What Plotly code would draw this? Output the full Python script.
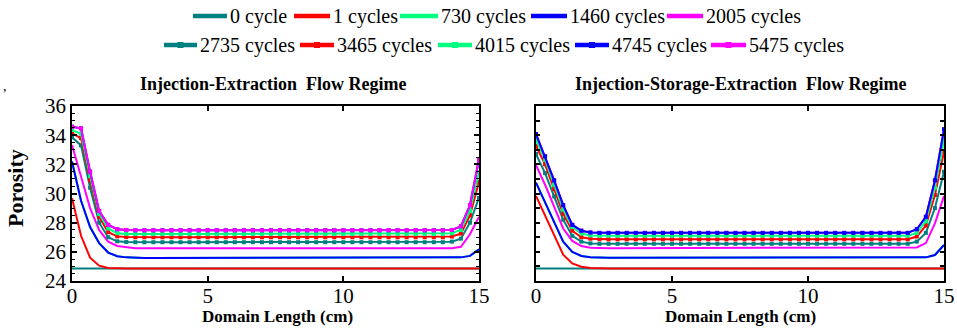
import numpy as np
import plotly.graph_objects as go

# ---------------- data ----------------
x_cm = np.linspace(0, 15, 46)          # domain grid, dx = 1/3 cm
labels = ["0 cycle", "1 cycles", "730 cycles", "1460 cycles", "2005 cycles",
          "2735 cycles", "3465 cycles", "4015 cycles", "4745 cycles", "5475 cycles"]
colors = ["#008080", "#FF0000", "#00FF7F", "#0000FF", "#FF00FF",
          "#008080", "#FF0000", "#00FF7F", "#0000FF", "#FF00FF"]
has_marker = [False] * 5 + [True] * 5

# Injection-Extraction: (left edge values, plateau value, right edge values)
ie_left = {
    "0 cycle":     [24.85],
    "1 cycles":    [29.67, 27.10, 25.60, 25.05, 24.90, 24.86],
    "730 cycles":  [32.20, 29.50, 27.70, 26.60, 25.95, 25.70, 25.62],
    "1460 cycles": [32.20, 29.50, 27.70, 26.60, 25.95, 25.70, 25.62],
    "2005 cycles": [33.33, 31.20, 29.00, 27.50, 26.70, 26.40, 26.30],
    "2735 cycles": [33.85, 33.30, 30.40, 28.00, 27.00, 26.72, 26.67],
    "3465 cycles": [34.13, 33.80, 30.90, 28.40, 27.35, 27.06, 27.01],
    "4015 cycles": [34.35, 34.10, 31.20, 28.60, 27.60, 27.28, 27.23],
    "4745 cycles": [34.58, 34.47, 31.50, 28.80, 27.85, 27.55, 27.50],
    "5475 cycles": [34.58, 34.47, 31.50, 28.80, 27.85, 27.55, 27.50],
}
ie_plateau = {
    "0 cycle": 24.85, "1 cycles": 24.85, "730 cycles": 25.58, "1460 cycles": 25.58,
    "2005 cycles": 26.25, "2735 cycles": 26.66, "3465 cycles": 27.00,
    "4015 cycles": 27.22, "4745 cycles": 27.48, "5475 cycles": 27.48,
}
ie_right = {
    "0 cycle":     [24.85],
    "1 cycles":    [24.85],
    "730 cycles":  [25.58, 25.62, 25.72, 26.17],
    "1460 cycles": [25.58, 25.62, 25.72, 26.17],
    "2005 cycles": [26.25, 26.35, 27.20, 28.40],
    "2735 cycles": [26.70, 26.90, 28.00, 29.70],
    "3465 cycles": [27.05, 27.25, 28.50, 30.80],
    "4015 cycles": [27.27, 27.50, 28.80, 31.50],
    "4745 cycles": [27.50, 27.75, 29.20, 32.35],
    "5475 cycles": [27.50, 27.75, 29.20, 32.35],
}

# Injection-Storage-Extraction
ise_left = {
    "0 cycle":     [24.85],
    "1 cycles":    [29.83, 28.50, 27.10, 25.80, 25.20, 24.98, 24.90, 24.86],
    "730 cycles":  [30.74, 29.40, 28.00, 26.70, 26.00, 25.72, 25.63],
    "1460 cycles": [30.74, 29.40, 28.00, 26.70, 26.00, 25.72, 25.63],
    "2005 cycles": [31.95, 30.60, 29.10, 27.60, 26.75, 26.40, 26.28],
    "2735 cycles": [32.70, 31.40, 29.80, 28.20, 27.10, 26.70, 26.58],
    "3465 cycles": [33.26, 32.00, 30.30, 28.60, 27.45, 27.00, 26.90],
    "4015 cycles": [33.67, 32.30, 30.60, 28.90, 27.70, 27.25, 27.12],
    "4745 cycles": [34.08, 32.55, 30.90, 29.20, 27.85, 27.45, 27.33],
    "5475 cycles": [34.08, 32.55, 30.90, 29.20, 27.85, 27.45, 27.33],
}
ise_plateau = {
    "0 cycle": 24.85, "1 cycles": 24.85, "730 cycles": 25.60, "1460 cycles": 25.60,
    "2005 cycles": 26.25, "2735 cycles": 26.55, "3465 cycles": 26.86,
    "4015 cycles": 27.10, "4745 cycles": 27.30, "5475 cycles": 27.30,
}
ise_right = {
    "0 cycle":     [24.85],
    "1 cycles":    [24.85],
    "730 cycles":  [25.60, 25.62, 25.78, 26.47],
    "1460 cycles": [25.60, 25.62, 25.78, 26.47],
    "2005 cycles": [26.30, 26.60, 27.95, 29.83],
    "2735 cycles": [26.70, 27.30, 29.00, 31.50],
    "3465 cycles": [27.05, 27.80, 29.90, 32.87],
    "4015 cycles": [27.30, 28.10, 30.40, 33.67],
    "4745 cycles": [27.55, 28.40, 30.90, 34.40],
    "5475 cycles": [27.55, 28.40, 30.90, 34.40],
}


def profile(left, plateau, right):
    n_mid = len(x_cm) - len(left) - len(right)
    return list(left) + [plateau] * n_mid + list(right)


FONT = "Liberation Serif"

fig = go.Figure()

order_ie = list(range(10))
order_ise = [0, 1, 2, 3, 4, 5, 6, 7, 9, 8]   # blue 4745 drawn on top in the right panel

for (lft, plat, rgt, order, xa, ya) in [
        (ie_left, ie_plateau, ie_right, order_ie, "x", "y"),
        (ise_left, ise_plateau, ise_right, order_ise, "x2", "y2")]:
    for i in order:
        name = labels[i]
        y = profile(lft[name], plat[name], rgt[name])
        fig.add_trace(go.Scatter(
            x=x_cm, y=y, xaxis=xa, yaxis=ya, name=name, showlegend=False,
            mode="lines+markers" if has_marker[i] else "lines",
            line=dict(color=colors[i], width=2),
            marker=dict(symbol="square", size=4, color=colors[i]),
        ))

W, H = 957, 328
def px(v):
    return v / W
def py(v):
    return 1 - v / H

axis_common = dict(
    range=[0, 15], showline=True, linecolor="black", linewidth=1.5,
    mirror="allticks", ticks="inside", ticklen=5, tickwidth=1.5, tickcolor="black",
    showgrid=False, zeroline=False, tickvals=[0, 5, 10, 15], automargin=False,
    ticklabelstandoff=-5,
    tickfont=dict(family=FONT, size=21, color="black"),
)
yaxis_common = dict(
    range=[24, 36], showline=True, linecolor="black", linewidth=1.5,
    mirror="allticks", ticks="inside", tickwidth=1.5, tickcolor="black",
    showgrid=False, zeroline=False, automargin=False,
    tickfont=dict(family=FONT, size=21, color="black"),
)

ydom = [py(281), py(106)]
fig.update_layout(
    width=W, height=H, margin=dict(l=0, r=0, t=0, b=0),
    paper_bgcolor="white", plot_bgcolor="white", showlegend=False,
    font=dict(family=FONT, color="black"),
    xaxis=dict(domain=[px(72), px(479)], anchor="y", **axis_common),
    xaxis2=dict(domain=[px(536), px(944)], anchor="y2", **axis_common),
    yaxis=dict(domain=ydom, anchor="x", tickvals=[24, 26, 28, 30, 32, 34, 36],
               ticklen=5, minor=dict(dtick=0.5, ticks="inside", ticklen=3,
                                     tickwidth=1.2, tickcolor="black"),
               **yaxis_common),
    yaxis2=dict(domain=ydom, anchor="x2", dtick=1, tick0=24, ticklen=4,
                showticklabels=False, **yaxis_common),
)

# ---- manual two-row legend (positions in pixels) ----
legend_rows = [
    (16, [(193, 227), (294, 330), (400, 438), (531, 567), (667, 703)]),
    (45, [(164, 197), (300, 334), (438, 472), (575, 609), (711, 746)]),
]
shapes = []
ann = []
for r, (yrow, items) in enumerate(legend_rows):
    for k, (x0, x1) in enumerate(items):
        i = r * 5 + k
        shapes.append(dict(type="line", xref="paper", yref="paper",
                           x0=px(x0), x1=px(x1), y0=py(yrow), y1=py(yrow),
                           line=dict(color=colors[i], width=4.5)))
        if has_marker[i]:
            xm = (x0 + x1) / 2
            shapes.append(dict(type="rect", xref="paper", yref="paper",
                               x0=px(xm - 3), x1=px(xm + 3),
                               y0=py(yrow + 3), y1=py(yrow - 3),
                               fillcolor=colors[i], line=dict(width=0)))
        ann.append(dict(text=labels[i], x=px(x1 + 1), y=py(yrow), xanchor="left",
                        font=dict(family=FONT, size=20)))

ann.append(dict(text="<b>Injection-Extraction  Flow Regime</b>", x=px(273), y=py(84),
                font=dict(family=FONT, size=18)))
ann.append(dict(text="<b>Injection-Storage-Extraction  Flow Regime</b>", x=px(740), y=py(84),
                font=dict(family=FONT, size=18)))
ann.append(dict(text="<b>Domain Length (cm)</b>", x=px(277), y=py(316),
                font=dict(family=FONT, size=17)))
ann.append(dict(text="<b>Domain Length (cm)</b>", x=px(740), y=py(316),
                font=dict(family=FONT, size=17)))
ann.append(dict(text="<b>Porosity</b>", x=px(16), y=py(188), textangle=-90,
                font=dict(family=FONT, size=22)))
ann.append(dict(text=",", x=px(5), y=py(86), font=dict(family=FONT, size=14)))
for a in ann:
    a.update(xref="paper", yref="paper", showarrow=False, yanchor="middle")
    a.setdefault("xanchor", "center")
    a["font"]["color"] = "black"
fig.update_layout(annotations=ann, shapes=shapes)

fig.write_html("out.html", config={"displayModeBar": False},
               post_script="document.body.style.margin='0';document.body.style.padding='0';")
